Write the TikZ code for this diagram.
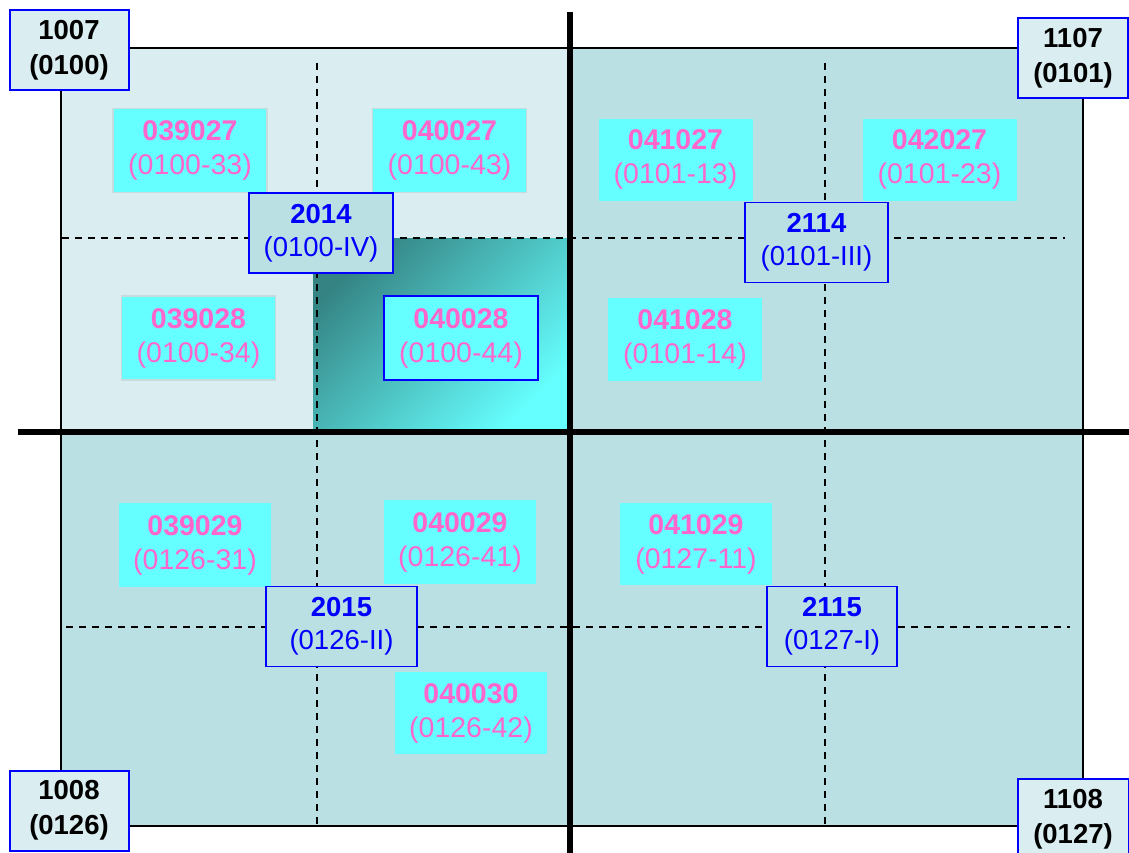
\documentclass[tikz,border=0pt]{standalone}
\usepackage{fontspec}
\setmainfont{Liberation Sans}
\definecolor{lightq}{HTML}{DAEDF0}
\definecolor{darkq}{HTML}{BBE0E3}
\definecolor{cyanc}{HTML}{66FFFF}
\definecolor{pinkc}{HTML}{FF66CC}
\definecolor{bluec}{HTML}{0000FF}
\definecolor{edgec}{HTML}{C6DCDC}
\definecolor{tealdark}{HTML}{358383}
\definecolor{tealmid}{HTML}{4DB8B8}
\begin{document}
\begin{tikzpicture}[x=1pt,y=-1pt,
  cellbox/.style={fill=cyanc, text=pinkc, inner sep=0pt, align=center,
    font=\fontsize{28.5}{34}\selectfont, minimum width=154pt, minimum height=84pt},
  grayedge/.style={draw=edgec, line width=1.5pt},
  framedcell/.style={draw=bluec, line width=1.5pt},
  sheetbox/.style={fill=darkq, draw=bluec, line width=1.5pt, text=bluec, inner sep=0pt,
    align=center, font=\fontsize{27.5}{33}\selectfont, minimum height=80pt},
  cornerbox/.style={fill=lightq, draw=bluec, line width=2pt, text=black, inner sep=0pt,
    align=center, font=\fontsize{27.5}{35}\selectfont\bfseries, minimum width=119pt, minimum height=80pt},
  dashline/.style={dash pattern=on 7pt off 6pt, line width=1.5pt},
  thickline/.style={line width=6pt},
  frame/.style={line width=2pt}
]
\useasboundingbox (0,0) rectangle (1129,853);
% quadrant fills
\fill[lightq] (61,48) rectangle (570,432);
\fill[darkq] (570,48) rectangle (1083,432);
\fill[darkq] (61,432) rectangle (1083,826);
% gradient area
\shade[top color=tealdark, middle color=tealmid, bottom color=cyanc, shading angle=45] (313,238) rectangle (570,432);
% dashed lines
\coordinate (v1t) at (317,63); \coordinate (v1b) at (317,826);
\coordinate (v2t) at (825,63); \coordinate (v2b) at (825,826);
\coordinate (h1l) at (62,238); \coordinate (h1r) at (1065,238);
\coordinate (h2l) at (66,627); \coordinate (h2r) at (1070,627);
\draw[dashline] (v1t) -- (v1b);
\draw[dashline] (v2t) -- (v2b);
\draw[dashline] (h1l) -- (h1r);
\draw[dashline] (h2l) -- (h2r);
% frame
\draw[frame] (61,48) rectangle (1083,826);
% thick lines
\coordinate (vt) at (570,12); \coordinate (vb) at (570,853);
\coordinate (hl) at (18,432); \coordinate (hr) at (1129,432);
\draw[thickline] (vt) -- (vb);
\draw[thickline] (hl) -- (hr);
% cells
\node[cellbox, grayedge] (c039027) at (190,150.5) {\textbf{039027}\\(0100-33)};
\node[cellbox, grayedge] (c040027) at (449.5,150.5) {\textbf{040027}\\(0100-43)};
\node[cellbox, minimum height=82pt] (c041027) at (675.5,160) {\textbf{041027}\\(0101-13)};
\node[cellbox, minimum height=82pt] (c042027) at (939.5,160) {\textbf{042027}\\(0101-23)};
\node[cellbox, grayedge] (c039028) at (198.5,338) {\textbf{039028}\\(0100-34)};
\node[cellbox, framedcell] (c040028) at (461,338) {\textbf{040028}\\(0100-44)};
\node[cellbox, minimum height=83pt] (c041028) at (685,339.5) {\textbf{041028}\\(0101-14)};
\node[cellbox, minimum width=152pt] (c039029) at (195,545) {\textbf{039029}\\(0126-31)};
\node[cellbox, minimum width=152pt] (c040029) at (460,542) {\textbf{040029}\\(0126-41)};
\node[cellbox, minimum width=152pt, minimum height=82pt] (c041029) at (696,544) {\textbf{041029}\\(0127-11)};
\node[cellbox, minimum width=152pt, minimum height=82pt] (c040030) at (471,713) {\textbf{040030}\\(0126-42)};
% sheet boxes
\node[sheetbox, minimum width=144pt] (s2014) at (321,233) {\textbf{2014}\\(0100-IV)};
\node[sheetbox, minimum width=143pt] (s2114) at (816.5,242.5) {\textbf{2114}\\(0101-III)};
\node[sheetbox, minimum width=151pt] (s2015) at (341.5,626.5) {\textbf{2015}\\(0126-II)};
\node[sheetbox, minimum width=130pt] (s2115) at (832,626.5) {\textbf{2115}\\(0127-I)};
% corner boxes
\node[cornerbox] (k1007) at (69,50.5) {1007\\(0100)};
\node[cornerbox, minimum width=110pt] (k1107) at (1073,58.5) {1107\\(0101)};
\node[cornerbox] (k1008) at (69,810.5) {1008\\(0126)};
\node[cornerbox, minimum width=111pt] (k1108) at (1073,819) {1108\\(0127)};
\end{tikzpicture}
\end{document}
